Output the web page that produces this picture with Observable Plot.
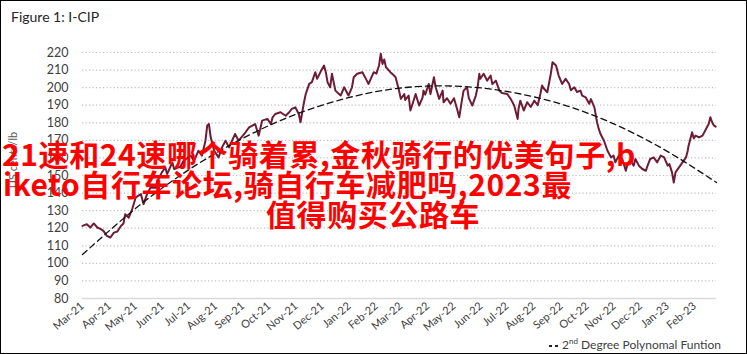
<!DOCTYPE html>
<html>
<head>
<meta charset="utf-8">
<script src="https://cdn.jsdelivr.net/npm/d3@7"></script>
<script src="https://cdn.jsdelivr.net/npm/@observablehq/plot@0.6"></script>
<style>
  html, body { margin: 0; padding: 0; background: #fff; }
  #wrap { position: relative; width: 747px; height: 354px; overflow: hidden; background: #fff; font-family: Lato, "Open Sans", sans-serif; }
  #frame { position: absolute; left: 0; top: 0; width: 745px; height: 352px; border: 1px solid #000; pointer-events: none; }
  #title { position: absolute; left: 11px; top: 8px; font-size: 14px; color: #262626; }
  #ylab { position: absolute; left: 12px; top: 160px; font-size: 11px; color: #595959; transform: translate(-50%, -50%) rotate(-90deg); white-space: nowrap; }
  #legend { position: absolute; right: 26px; top: 336px; font-size: 12px; color: #404040; white-space: nowrap; }
  #legend sup { font-size: 8px; }
  #legend svg { vertical-align: middle; margin-right: 3px; }
  .ov { position: absolute; font-family: "Noto Sans CJK SC", sans-serif; font-weight: bold; font-size: 30px; line-height: 30px; letter-spacing: 0.6px; color: #ff0000; white-space: nowrap; }
  #chart { position: absolute; left: 0; top: 0; }
</style>
</head>
<body>
<div id="wrap">
  <div id="chart"></div>
  <div id="title">Figure 1: I-CIP</div>
  <div id="ylab">US cents/lb</div>
  <div id="legend"><svg width="10" height="4"><line x1="0" y1="2" x2="10" y2="2" stroke="#222" stroke-width="2" stroke-dasharray="3,3"/></svg>2<sup>nd</sup> Degree Polynomal Funtion</div>
  <div class="ov" style="left:2px; top:138px;">21速和24速哪个骑着累,金秋骑行的优美句子,b</div>
  <div class="ov" style="left:3px; top:168px;">iketo自行车论坛,骑自行车减肥吗,2023最</div>
  <div class="ov" style="left:266px; top:198px;">值得购买公路车</div>
  <div id="frame"></div>
</div>
<script>
// ---- data ----
const startDate = "2021-03-01";
const endDate = "2023-02-26";
// days since startDate
const days = [0,5,9,13,17,21,24,28,32,36,40,44,47,49,53,57,61,67,70,74,78,84,86,91,95,97,103,105,112,116,124,128,133,137,141,143,145,147,151,156,160,164,168,175,179,187,191,198,202,206,212,216,218,221,227,233,237,240,244,248,250,254,256,260,263,267,269,273,277,279,281,284,286,290,296,300,305,309,311,315,321,325,328,334,337,340,342,344,346,348,351,353,357,359,361,363,365,369,370,374,376,378,382,386,390,391,393,397,399,403,405,409,413,414,418,422,426,430,432,435,437,441,443,447,451,453,455,456,460,464,468,470,474,478,481,487,491,495,499,500,502,506,510,514,518,522,525,527,529,533,537,539,543,546,550,554,558,560,564,567,571,573,577,581,583,587,590,592,594,598,602,606,609,611,615,619,623,625,629,632,634,638,642,646,648,651,655,659,663,667,671,673,676,678,680,684,688,692,694,695,699,701,703,707,711,715,718,720,722,724,726];
// I-CIP, US cents/lb
const prices = [121.3,122.3,120.4,122.7,120.4,119.5,118.5,115.6,114.7,117.5,118.1,121.3,122.7,128,126,130.9,137.5,139.4,133.7,139.4,143.2,143,147,151.8,154.6,150.8,157.5,153.7,155,158.4,161.3,158.4,164.1,161.3,169.8,178.4,179.3,171.7,164,160.3,166,169.8,166,173.6,169.8,174.6,177.4,179.3,172.7,181.2,182.2,179.3,183.1,185,186,184,186,187.9,188.8,185,180.3,191.7,196.4,202.1,203.1,208.8,205,209,212.6,208.8,203.1,200.2,207.9,198.3,195.5,200.2,195.5,200.2,205.9,207.9,208.8,205,202.1,208.8,208,212.6,219.3,213.5,216,211.6,210,208.8,207,205.9,202.1,198.3,193.6,196.4,193,195.5,187,190,196.4,189.8,194.5,198.3,196,202.1,196.4,205.9,200.2,193.6,198.3,191.7,194,190.8,194,187,183.1,192.6,198.3,200.2,194,189.8,195.5,200,207.9,205,207.9,204,206.9,202,204,198.3,197,196.4,193.6,189.8,182.2,188,192.6,187,191.7,189,192.6,190,196.4,201.2,199.5,197.4,207.9,214.5,212.6,206.9,202.1,205,202.1,198.5,200.2,197.5,198.3,195.5,194.5,190.8,193.5,188.8,180.3,176.5,173.6,169.8,164.1,160.3,161.3,157.5,161.3,159.4,152.7,156.5,158.4,155.6,159.4,155.6,153.7,152.7,155.6,159.4,160.3,157.5,161.3,160.3,155.6,156.5,151.8,146,151.8,154.6,157.5,160.3,164.1,167,174.6,171,172.7,171.7,172.7,176.5,179.3,183.1,180.3,178.5,177.8];
// 2nd degree polynomial trend
const trendDates = ["2021-03-01","2021-05-01","2021-07-01","2021-09-01","2021-11-01","2022-01-01","2022-03-01","2022-05-01","2022-07-01","2022-09-01","2022-11-01","2023-01-01","2023-02-26"];
const trendValues = [105,131.3,153.3,171.2,184.9,194.4,199.8,200.9,197.8,190.6,179.2,163.6,146];
const yTicks = [80,90,100,110,120,130,140,150,160,170,180,190,200,210,220];

// ---- build ----
const t0 = new Date(startDate);
const series = days.map((d, i) => ({date: d3.utcDay.offset(t0, d), value: prices[i]}));
const trend = trendDates.map((d, i) => ({date: new Date(d), value: trendValues[i]}));
const monthTicks = d3.utcMonth.range(t0, new Date(endDate));

const chart = Plot.plot({
  width: 747,
  height: 354,
  marginTop: 52,
  marginBottom: 56,
  marginLeft: 82,
  marginRight: 31,
  style: {fontFamily: "Lato, 'Open Sans', sans-serif", color: "#404040", background: "transparent"},
  x: {type: "utc", domain: [t0, new Date(endDate)]},
  y: {domain: [80, 220]},
  marks: [
    Plot.gridY(yTicks.filter(v => v > 80), {stroke: "#bfbfbf", strokeOpacity: 1, strokeDasharray: "1.2,2.3", strokeWidth: 1.2}),
    Plot.ruleY([80], {stroke: "#d9d9d9", strokeWidth: 1.5}),
    Plot.axisY({ticks: yTicks, tickSize: 0, tickPadding: 14, fontSize: 12.5, fill: "#404040", label: null}),
    Plot.axisX({ticks: monthTicks, tickFormat: d3.utcFormat("%b-%y"), tickRotate: -40, tickSize: 0, tickPadding: 6, fontSize: 11, fill: "#404040", label: null}),
    Plot.lineY(series, {x: "date", y: "value", stroke: "#6e1c35", strokeWidth: 2}),
    Plot.line(trend, {x: "date", y: "value", curve: "natural", stroke: "#111", strokeWidth: 1.3, strokeDasharray: "6,4"})
  ]
});
document.getElementById("chart").appendChild(chart);
</script>
</body>
</html>
